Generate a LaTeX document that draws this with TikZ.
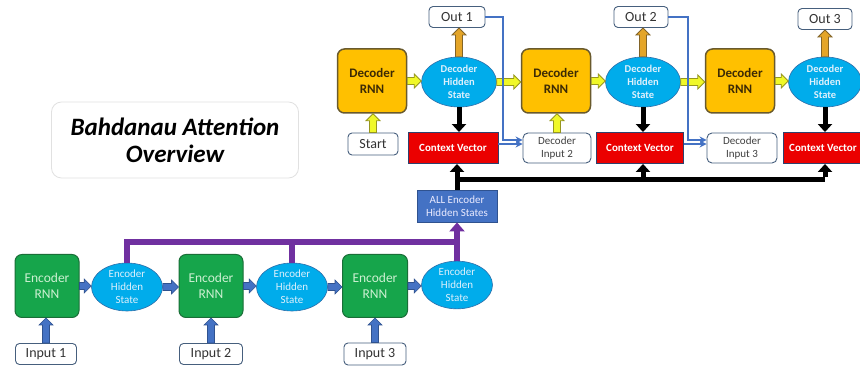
\documentclass[tikz,border=0pt]{standalone}
\usepackage{fontspec}
\setmainfont{Carlito}
\usetikzlibrary{shapes.geometric,arrows.meta,calc}

\definecolor{gold}{RGB}{255,192,0}
\definecolor{goldline}{RGB}{105,90,45}
\definecolor{goldtext}{RGB}{60,42,5}
\definecolor{sky}{RGB}{0,172,235}
\definecolor{skyline}{RGB}{45,110,170}
\definecolor{skytext}{RGB}{222,240,252}
\definecolor{slate}{RGB}{70,95,125}
\definecolor{cvred}{RGB}{235,0,0}
\definecolor{cvline}{RGB}{45,65,110}
\definecolor{bblue}{RGB}{68,114,196}
\definecolor{bblueline}{RGB}{47,82,143}
\definecolor{egreen}{RGB}{22,165,75}
\definecolor{egreenline}{RGB}{25,110,55}
\definecolor{etext}{RGB}{205,240,210}
\definecolor{purp}{RGB}{112,48,160}
\definecolor{yel}{RGB}{240,248,40}
\definecolor{yelline}{RGB}{150,150,30}
\definecolor{org}{RGB}{228,165,40}
\definecolor{orgline}{RGB}{130,100,40}
\definecolor{titleline}{RGB}{225,225,225}

% right-pointing block arrow from #2 to #3
\newcommand\rarrow[3][yarr]{%
  \path[#1] let \p1=(#2), \p2=(#3) in
    (\x1,{\y1+3.5pt}) -- ({\x2-7pt},{\y1+3.5pt}) -- ({\x2-7pt},{\y1+7pt}) -- (\x2,\y1)
    -- ({\x2-7pt},{\y1-7pt}) -- ({\x2-7pt},{\y1-3.5pt}) -- (\x1,{\y1-3.5pt}) -- cycle;}
% upward block arrow from #2 (below) to #3 (above)
\newcommand\uarrow[3][yarr]{%
  \path[#1] let \p1=(#2), \p2=(#3) in
    ({\x1-3.5pt},\y1) -- ({\x1-3.5pt},{\y2-7pt}) -- ({\x1-7pt},{\y2-7pt}) -- (\x1,\y2)
    -- ({\x1+7pt},{\y2-7pt}) -- ({\x1+3.5pt},{\y2-7pt}) -- ({\x1+3.5pt},\y1) -- cycle;}

\begin{document}
\begin{tikzpicture}[x=1pt,y=-1pt,
  drnn/.style={rectangle, rounded corners=7pt, fill=gold, draw=goldline, line width=1.5pt,
    minimum width=69pt, minimum height=64pt, align=center, text=goldtext,
    font=\fontsize{13}{15.5}\selectfont\bfseries},
  dhs/.style={ellipse, fill=sky, draw=skyline, line width=0.6pt, inner sep=0pt,
    minimum width=75pt, minimum height=50pt, align=center, text=skytext,
    font=\fontsize{10.5}{13}\selectfont\bfseries},
  outbox/.style={rectangle, rounded corners=4pt, fill=white, draw=slate, line width=0.9pt,
    minimum width=56pt, minimum height=21pt, inner sep=0pt, text=black!80,
    font=\fontsize{14}{16}\selectfont},
  cvbox/.style={rectangle, fill=cvred, draw=cvline, line width=0.9pt,
    minimum width=90pt, minimum height=31pt, inner sep=0pt, text=white,
    font=\fontsize{11}{12}\selectfont\bfseries},
  dinbox/.style={rectangle, rounded corners=5pt, fill=white, draw=slate, line width=0.9pt,
    minimum width=68pt, minimum height=30pt, inner sep=0pt, align=center, text=black!75,
    font=\fontsize{11}{12.5}\selectfont},
  ernn/.style={rectangle, rounded corners=7pt, fill=egreen, draw=egreenline, line width=1pt,
    minimum width=64pt, minimum height=63pt, align=center, text=etext,
    font=\fontsize{13.5}{16}\selectfont},
  ehs/.style={ellipse, fill=sky, draw=skyline, line width=0.6pt, inner sep=0pt,
    minimum width=71pt, minimum height=48pt, align=center, text=skytext,
    font=\fontsize{11}{13}\selectfont},
  allbox/.style={rectangle, fill=bblue, draw=bblueline, line width=0.9pt,
    minimum width=80pt, minimum height=32pt, inner sep=0pt, align=center, text=white!92!blue,
    font=\fontsize{11}{12.5}\selectfont},
  titlebox/.style={rectangle, rounded corners=10pt, fill=white, draw=titleline, line width=0.8pt,
    minimum width=247pt, minimum height=76pt, align=center, text=black,
    font=\fontsize{25}{27}\selectfont\bfseries\itshape},
  yarr/.style={fill=yel, draw=yelline, line width=0.8pt, line join=miter},
  oarr/.style={fill=org, draw=orgline, line width=0.8pt, line join=miter},
  barr/.style={fill=bblue, draw=bblueline, line width=0.6pt, line join=miter},
  blk/.style={draw=black, line width=5pt, -{Triangle[length=8pt,width=14pt]}},
  blkl/.style={draw=black, line width=5pt},
  thinb/.style={draw=bblue, line width=1.6pt, -{Stealth[length=7pt,width=7pt]}},
  purpl/.style={draw=purp, line width=6pt},
]
\clip (0,0) rectangle (860,371);
\fill[white] (0,0) rectangle (860,371);

% title
\node[titlebox] (title) at (175,140) {Bahdanau Attention\\Overview};

% decoder row
\node[drnn] (drnn1) at (372,81) {Decoder\\RNN};
\node[drnn] (drnn2) at (556,81) {Decoder\\RNN};
\node[drnn] (drnn3) at (740,81) {Decoder\\RNN};
\node[dhs] (dhs1) at (459,82) {Decoder\\Hidden\\State};
\node[dhs] (dhs2) at (643,82) {Decoder\\Hidden\\State};
\node[dhs, minimum width=73pt] (dhs3) at (825,82) {Decoder\\Hidden\\State};
\node[outbox] (out1) at (457,17) {Out 1};
\node[outbox, minimum width=54pt] (out2) at (641,17) {Out 2};
\node[outbox, minimum width=54pt] (out3) at (825,19) {Out 3};
\node[outbox, minimum width=50pt, minimum height=22pt] (start) at (373,144) {Start};
\node[cvbox] (cv1) at (453,148) {Context Vector};
\node[cvbox, minimum width=87pt] (cv2) at (640,148) {Context Vector};
\node[cvbox, minimum width=80pt] (cv3) at (823,148) {Context Vector};
\node[dinbox] (di2) at (557,148) {Decoder\\Input 2};
\node[dinbox, minimum width=70pt] (di3) at (742,148) {Decoder\\Input 3};
\node[allbox] (all) at (457,206) {ALL Encoder\\Hidden States};

% encoder row
\node[ernn] (ernn1) at (47,286) {Encoder\\RNN};
\node[ernn] (ernn2) at (211,286) {Encoder\\RNN};
\node[ernn, minimum width=65pt] (ernn3) at (375,286) {Encoder\\RNN};
\node[ehs] (ehs1) at (127,287) {Encoder\\Hidden\\State};
\node[ehs] (ehs2) at (292,287) {Encoder\\Hidden\\State};
\node[ehs, minimum height=46pt] (ehs3) at (457,285) {Encoder\\Hidden\\State};
\node[outbox, minimum width=61pt] (in1) at (46,354) {Input 1};
\node[outbox, minimum width=63pt] (in2) at (211,354) {Input 2};
\node[outbox, minimum width=62pt, minimum height=22pt] (in3) at (375,354) {Input 3};

% yellow block arrows
\rarrow{drnn1.east}{dhs1.west}
\rarrow{dhs1.east}{drnn2.west}
\rarrow{drnn2.east}{dhs2.west}
\rarrow{dhs2.east}{drnn3.west}
\rarrow{drnn3.east}{dhs3.west}
\uarrow{start.north}{drnn1.south}
\uarrow{di2.north}{drnn2.south}
% orange block arrows
\uarrow[oarr]{dhs1.north}{out1.south}
\uarrow[oarr]{dhs2.north}{out2.south}
\uarrow[oarr]{dhs3.north}{out3.south}

% black arrows hidden state -> context vector
\draw[blk] (dhs1.south) -- (dhs1.south |- cv1.north);
\draw[blk] (dhs2.south) -- (dhs2.south |- cv2.north);
\draw[blk] (dhs3.south) -- (dhs3.south |- cv3.north);

% black bus from all encoder hidden states
\coordinate (bus) at (457,180);
\coordinate (bus3) at (825,180);
\draw[blk] (all.north) -- (all.north |- cv1.south);
\draw[blkl] (bus) -- (bus3);
\draw[blk] ([yshift=2.5pt]bus3) -- (bus3 |- cv3.south);
\draw[blk] (bus -| dhs2.south) -- (dhs2.south |- cv2.south);

% thin blue arrows
\coordinate (k1) at (503,140);
\coordinate (k2) at (688,140);
\draw[thinb] (out1.east) -| (k1) -- (k1 -| di2.west);
\draw[thinb] ([yshift=4pt]cv1.east) -- ([yshift=4pt]cv1.east -| di2.west);
\draw[thinb] (out2.east) -| (k2) -- (k2 -| di3.west);
\draw[thinb] ([yshift=4pt]cv2.east) -- ([yshift=4pt]cv2.east -| di3.west);

% encoder blue block arrows
\rarrow[barr]{ernn1.east}{ehs1.west}
\rarrow[barr]{ehs1.east}{ernn2.west}
\rarrow[barr]{ernn2.east}{ehs2.west}
\rarrow[barr]{ehs2.east}{ernn3.west}
\rarrow[barr]{ernn3.east}{ehs3.west}
\uarrow[barr]{in1.north}{ernn1.south}
\uarrow[barr]{in2.north}{ernn2.south}
\uarrow[barr]{in3.north}{ernn3.south}

% purple bus
\coordinate (pb) at (457,242);
\draw[purpl, line join=miter] (ehs1.north) |- (pb);
\draw[purpl] (ehs2.north) -- (ehs2.north |- pb);
\draw[purpl, -{Triangle[length=9pt,width=15pt]}] (ehs3.north) -- (all.south);
\end{tikzpicture}
\end{document}
